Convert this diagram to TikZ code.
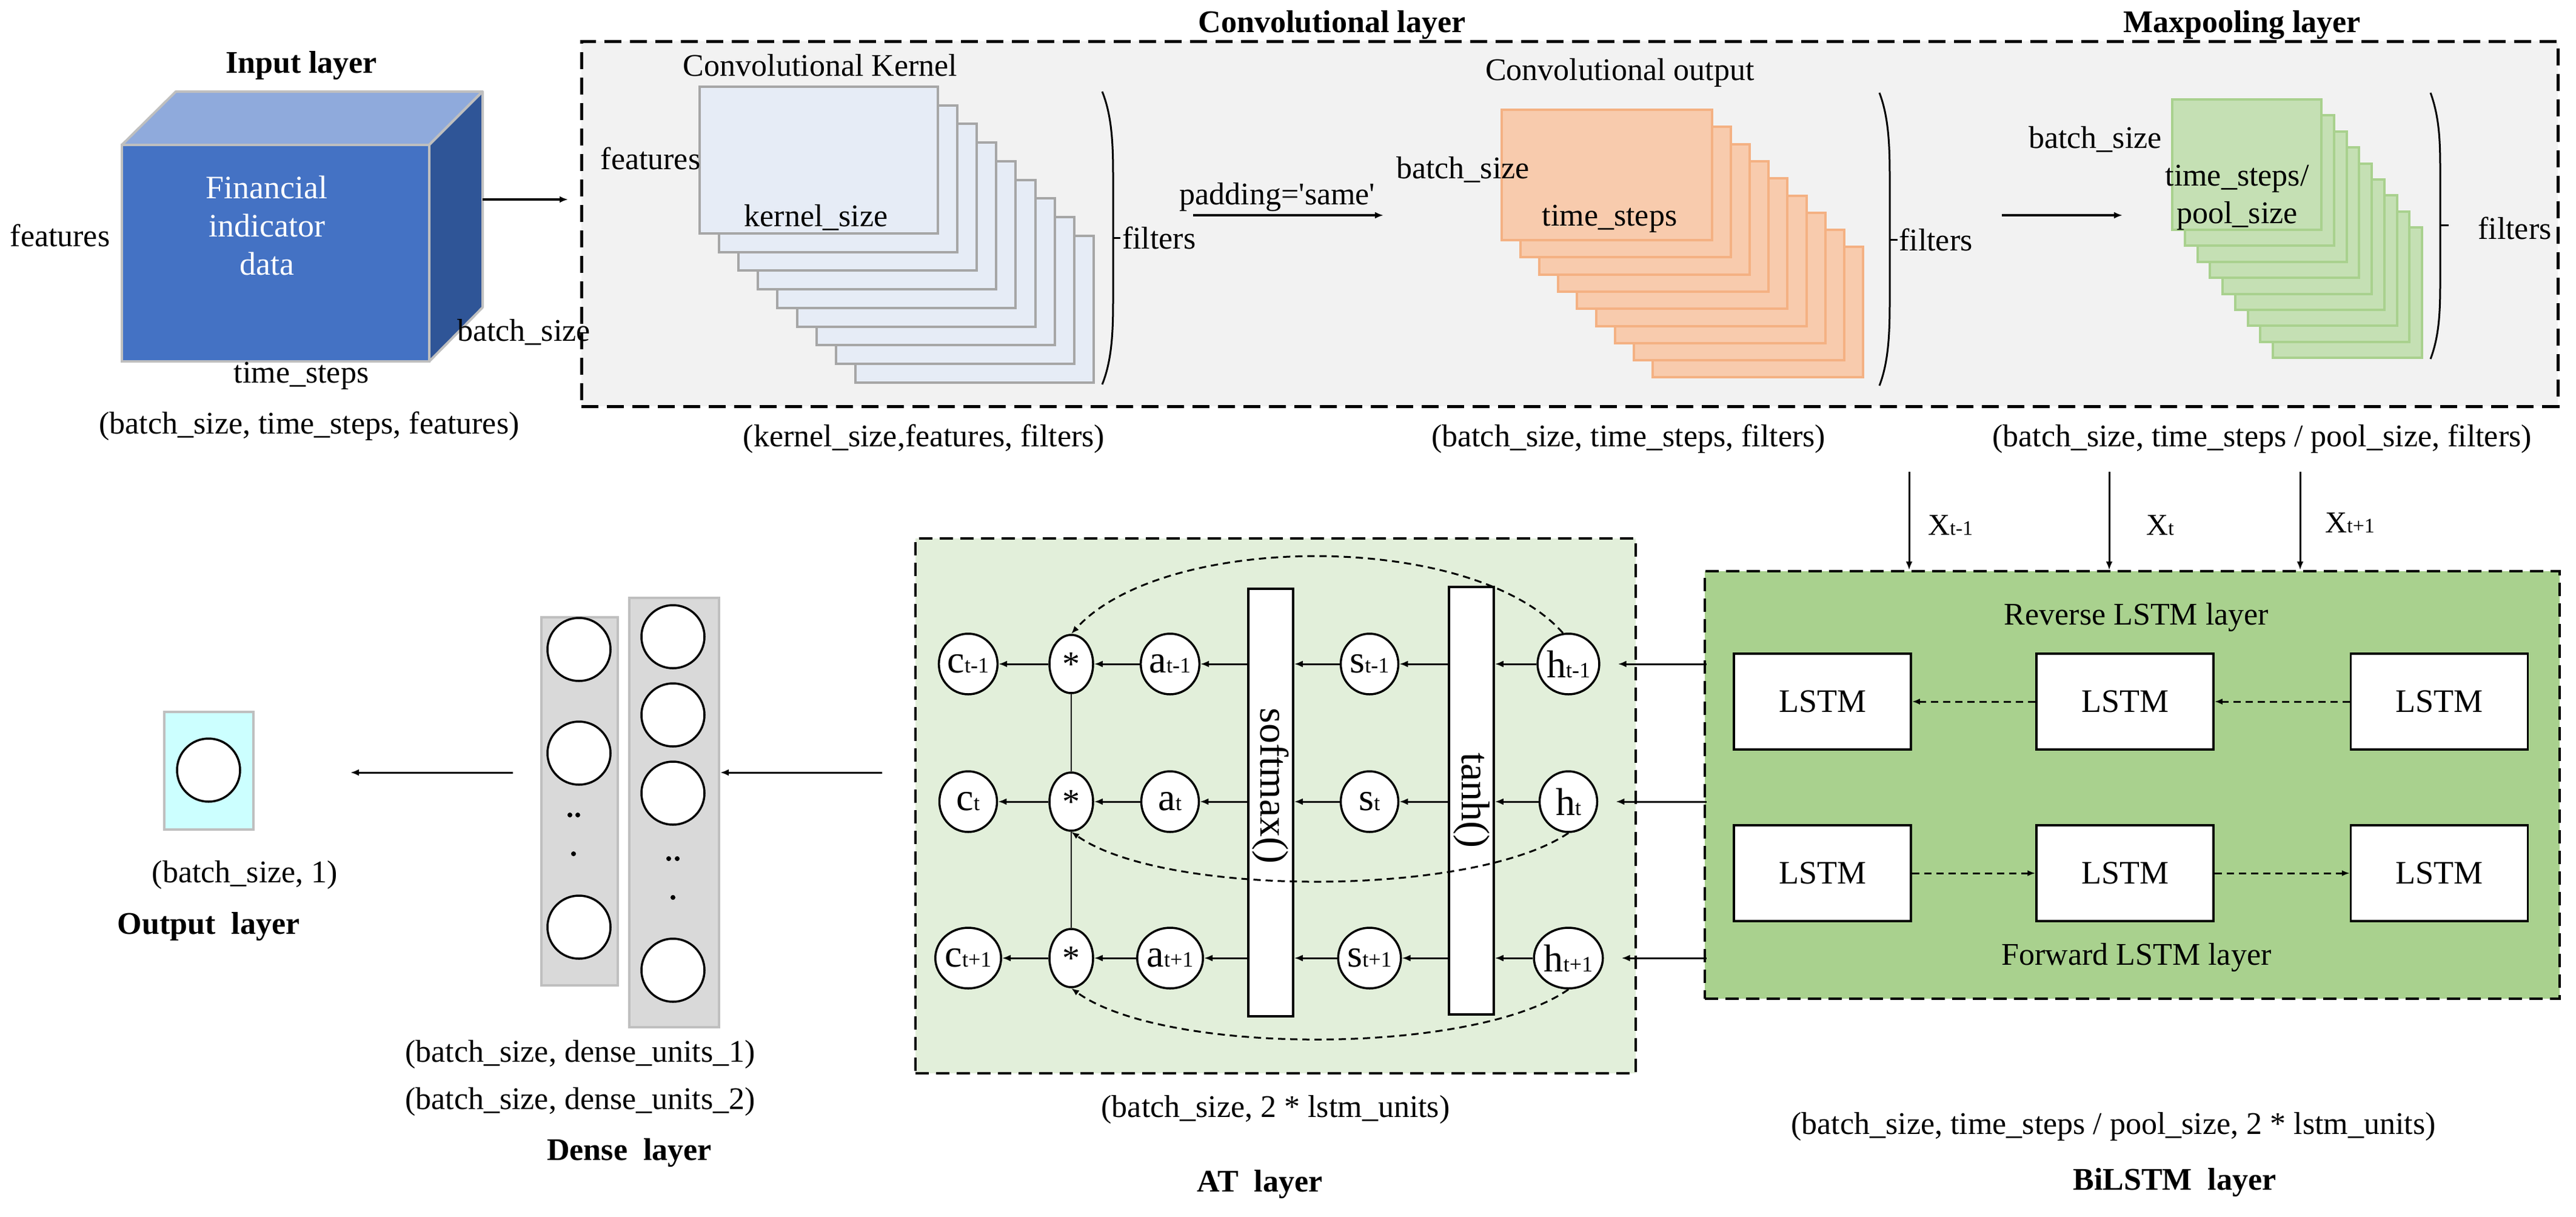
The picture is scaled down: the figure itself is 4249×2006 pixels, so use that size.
\documentclass[tikz,border=0pt]{standalone}
\usepackage{fontspec}
\setmainfont{Liberation Serif}[Ligatures=TeXOff]
\usetikzlibrary{shapes.geometric,arrows.meta}
\definecolor{cubefront}{HTML}{4472C4}
\definecolor{cubetop}{HTML}{8FAADC}
\definecolor{cubeside}{HTML}{2F5597}
\definecolor{edgegray}{HTML}{BFBFBF}
\definecolor{convbg}{HTML}{F2F2F2}
\definecolor{kfill}{HTML}{E6ECF6}
\definecolor{kdraw}{HTML}{A6A6A6}
\definecolor{ofill}{HTML}{F8CBAD}
\definecolor{odraw}{HTML}{F4B183}
\definecolor{gfill}{HTML}{C5E0B4}
\definecolor{gdraw}{HTML}{A9D18E}
\definecolor{atbg}{HTML}{E2EFDA}
\definecolor{bibg}{HTML}{A9D18E}
\definecolor{outbg}{HTML}{CCFFFF}
\definecolor{densebg}{HTML}{D9D9D9}
\newcommand{\fs}[2]{\fontsize{#1}{#2}\selectfont}
\newcommand{\lbl}[2]{{\fs{64}{64}#1}{\fs{36}{36}#2}}
\newcommand{\xlbl}[2]{{\fs{50}{50}#1}{\fs{34}{34}#2}}
\tikzset{
  txt/.style={font=\fs{52}{62}, inner sep=0pt, align=center},
  ttl/.style={font=\fs{52}{62}\bfseries, inner sep=0pt},
  arr/.style={line width=3.5pt, -{Latex[length=14pt,width=11pt]}},
  darr/.style={line width=3pt, dash pattern=on 12pt off 8pt, -{Latex[length=13pt,width=10pt]}},
  dbox/.style={draw=black, line width=5pt, dash pattern=on 28pt off 14pt, inner sep=0pt},
  unit/.style={ellipse, draw=black, line width=3.5pt, fill=white, minimum width=95pt, minimum height=100pt, inner sep=0pt},
  mul/.style={unit, minimum width=72pt, minimum height=96pt, font=\fs{58}{58}},
  lstmbox/.style={draw=black, line width=3.5pt, fill=white, minimum width=292pt, minimum height=158pt, font=\fs{54}{62}, inner sep=0pt},
  barbox/.style={draw=black, line width=3.5pt, fill=white, minimum width=74pt, minimum height=705pt, inner sep=0pt},
  neuron/.style={circle, draw=black, line width=3.5pt, fill=white, minimum size=104pt, inner sep=0pt},
  colbox/.style={draw=edgegray, line width=4pt, fill=densebg, inner sep=0pt},
  brk/.style={line width=3pt},
}
\begin{document}
\begin{tikzpicture}[x=1pt,y=-1pt]
\path[use as bounding box, fill=white] (0,0) rectangle (4249,2006);

% ---------------- Convolutional / Maxpooling box ----------------
\node[dbox, fill=convbg, minimum width=3260pt, minimum height=602pt] (convbox) at (2589,369) {};
\node[ttl] (convttl) at (2197,41) {Convolutional layer};
\node[ttl] (poolttl) at (3698,41) {Maxpooling layer};

% ---------------- Input layer ----------------
\node[ttl] (inputttl) at (497,108) {Input layer};
\path[fill=cubetop, draw=edgegray, line width=4pt, line join=round] (201,239) -- (290,151) -- (796,151) -- (708,239) -- cycle;
\path[fill=cubeside, draw=edgegray, line width=4pt, line join=round] (708,239) -- (796,151) -- (796,507) -- (708,596) -- cycle;
\node[draw=edgegray, line width=4pt, fill=cubefront, minimum width=507pt, minimum height=357pt, inner sep=0pt] (cube) at (454.5,417.5) {};
\node[txt, text=white, font=\fs{54}{63}] (cubetxt) at (440,372) {Financial\\indicator\\data};
\node[txt] (infeat) at (99,388) {features};
\node[txt] (inbatch) at (864,548) {batch\_size};
\node[txt] (intime) at (497,620) {time\_steps};
\node[txt] (inshape) at (510,703) {(batch\_size, time\_steps, features)};
\coordinate (cubeout) at (796,329);
\coordinate (convin) at (937,329);
\draw[arr] (cubeout) -- (convin);

% kernel stack
\foreach \i in {8,7,...,0} {
  \draw[fill=kfill, draw=kdraw, line width=4pt] ({1154+32.1*\i},{143+30.7*\i}) rectangle ++(393,242);
}
\node[txt] (kttl) at (1353,108) {Convolutional Kernel};
\node[txt] (kfeat) at (1073,261) {features};
\node[txt] (ksize) at (1346,359) {kernel\_size};
\draw[brk] (1818,151) .. controls (1836,195) and (1836,250) .. (1836,300) -- (1836,485) .. controls (1836,535) and (1836,590) .. (1818,634);
\draw[brk] (1836,392) -- (1848,392);
\node[txt, anchor=west] (kfilt) at (1851,392) {filters};
\node[txt] (kshape) at (1524,724) {(kernel\_size,features, filters)};

% padding arrow
\node[txt] (padtxt) at (2107,325) {padding='same'};
\coordinate (padA) at (1968,355);
\coordinate (padB) at (2282,355);
\draw[arr] (padA) -- (padB);

% conv output stack
\foreach \i in {8,7,...,0} {
  \draw[fill=ofill, draw=odraw, line width=4pt] ({2477+31.1*\i},{181+28.3*\i}) rectangle ++(347,215);
}
\node[txt] (ottl) at (2672,120) {Convolutional output};
\node[txt] (obatch) at (2413,280) {batch\_size};
\node[txt] (otime) at (2655,361) {time\_steps};
\draw[brk] (3100,153) .. controls (3117,197) and (3117,252) .. (3117,302) -- (3117,487) .. controls (3117,537) and (3117,592) .. (3100,636);
\draw[brk] (3117,395) -- (3130,395);
\node[txt, anchor=west] (ofilt) at (3132,395) {filters};
\node[txt] (oshape) at (2686,724) {(batch\_size, time\_steps, filters)};

% pool arrow
\coordinate (poolA) at (3302,355);
\coordinate (poolB) at (3501,355);
\draw[arr] (poolA) -- (poolB);

% maxpool stack
\foreach \i in {8,7,...,0} {
  \draw[fill=gfill, draw=gdraw, line width=4pt] ({3583+20.75*\i},{164+26.4*\i}) rectangle ++(246,215);
}
\node[txt] (pbatch) at (3456,230) {batch\_size};
\node[txt] (ptime) at (3690,326) {time\_steps/\\pool\_size};
\draw[brk] (4009,153) .. controls (4025,197) and (4025,240) .. (4025,290) -- (4025,455) .. controls (4025,505) and (4025,550) .. (4009,592);
\draw[brk] (4025,371) -- (4039,371);
\node[txt, anchor=west] (pfilt) at (4087,376) {filters};
\node[txt] (pshape) at (3731,724) {(batch\_size, time\_steps / pool\_size, filters)};

% ---------------- BiLSTM layer ----------------
\node[dbox, line width=4pt, dash pattern=on 22pt off 12pt, fill=bibg, minimum width=1410pt, minimum height=705pt] (bil) at (3517,1294.5) {};
\foreach \n/\x/\s in {1/3149/t-1, 2/3479/t, 3/3794/t+1} {
  \coordinate (xin\n) at (\x,778);
  \draw[arr, line width=3pt] (xin\n) -- (xin\n |- bil.north);
}
\node[anchor=west, inner sep=0pt] (xl1) at (3180,866) {\xlbl{X}{t-1}};
\node[anchor=west, inner sep=0pt] (xl2) at (3540,866) {\xlbl{X}{t}};
\node[anchor=west, inner sep=0pt] (xl3) at (3835,862) {\xlbl{X}{t+1}};
\node[txt] (revttl) at (3524,1018) {Reverse LSTM layer};
\node[txt] (fwdttl) at (3524,1579) {Forward LSTM layer};
\node[lstmbox] (r1) at (3006,1157) {LSTM};
\node[lstmbox] (r2) at (3505,1157) {LSTM};
\node[lstmbox] (r3) at (4023.5,1157) {LSTM};
\node[lstmbox] (f1) at (3006,1440) {LSTM};
\node[lstmbox] (f2) at (3505,1440) {LSTM};
\node[lstmbox] (f3) at (4023.5,1440) {LSTM};
\draw[darr] (r3.west) -- (r2.east);
\draw[darr] (r2.west) -- (r1.east);
\draw[darr] (f1.east) -- (f2.west);
\draw[darr] (f2.east) -- (f3.west);
\node[txt] (bishape) at (3486,1858) {(batch\_size, time\_steps / pool\_size, 2 * lstm\_units)};
\node[ttl] (bittl) at (3587,1950) {BiLSTM\ \ layer};

% ---------------- AT layer ----------------
\node[dbox, line width=4pt, dash pattern=on 22pt off 12pt, fill=atbg, minimum width=1188pt, minimum height=882pt] (atbox) at (2104,1329) {};
\node[barbox] (smbar) at (2096,1323.5) {};
\node[barbox] (tanhbar) at (2427,1320.5) {};
\node[rotate=-90, inner sep=0pt, font=\fs{66}{66}] (smtxt) at (2096,1296) {softmax()};
\node[rotate=-90, inner sep=0pt, font=\fs{66}{66}] (tanhtxt) at (2427,1320) {tanh()};
\foreach \r/\y/\s in {1/1095/t-1, 2/1322/t, 3/1580/t+1} {
  \node[unit] (c\r) at (1597,\y) {\lbl{c}{\s}};
  \node[mul] (m\r) at (1767,\y) {*};
  \node[unit] (a\r) at (1930,\y) {\lbl{a}{\s}};
  \node[unit] (s\r) at (2259,\y) {\lbl{s}{\s}};
  \node[unit] (h\r) at (2587,\y) {\lbl{h}{\s}};
  \draw[arr, line width=3pt] (h\r.west) -- (h\r.west -| tanhbar.east);
  \draw[arr, line width=3pt] (s\r.east -| tanhbar.west) -- (s\r.east);
  \draw[arr, line width=3pt] (s\r.west) -- (s\r.west -| smbar.east);
  \draw[arr, line width=3pt] (a\r.east -| smbar.west) -- (a\r.east);
  \draw[arr, line width=3pt] (a\r.west) -- (m\r.east);
  \draw[arr, line width=3pt] (m\r.west) -- (c\r.east);
  \draw[arr, line width=3pt] ([xshift=5pt]bil.west |- h\r) -- ([xshift=29pt]h\r.east);
}
\draw[line width=2.5pt] (m1.south) -- (m2.north);
\draw[line width=2.5pt] (m2.south) -- (m3.north);
\draw[darr] (h1.100) .. controls (2430,876) and (1920,876) .. (m1.north);
\draw[darr] (h2.south) .. controls (2430,1480) and (1920,1480) .. (m2.south);
\draw[darr] (h3.south) .. controls (2430,1741) and (1920,1741) .. (m3.south);
\node[txt] (atshape) at (2104,1830) {(batch\_size, 2 * lstm\_units)};
\node[ttl] (atttl) at (2078,1953) {AT\ \ layer};

% ---------------- Dense layer ----------------
\node[colbox, minimum width=126pt, minimum height=607pt] (d1) at (956,1321.5) {};
\node[colbox, minimum width=148pt, minimum height=708pt] (d2) at (1112,1340) {};
\node[neuron] (n11) at (955,1071) {};
\node[neuron] (n12) at (955,1242) {};
\node[neuron] (n13) at (955,1529) {};
\fill (940,1344) circle (4pt) (953,1344) circle (4pt) (946,1408) circle (4pt);
\node[neuron] (n21) at (1110,1050) {};
\node[neuron] (n22) at (1110,1179) {};
\node[neuron] (n23) at (1110,1308) {};
\node[neuron] (n24) at (1110,1600) {};
\fill (1103,1416) circle (4pt) (1117,1416) circle (4pt) (1110,1480) circle (4pt);
\coordinate (atout) at (1455,1274);
\draw[arr, line width=3pt] (atout) -- (atout -| d2.east);
\node[txt] (dshape1) at (957,1739) {(batch\_size, dense\_units\_1)};
\node[txt] (dshape2) at (957,1817) {(batch\_size, dense\_units\_2)};
\node[ttl] (dttl) at (1038,1901) {Dense\ \ layer};

% ---------------- Output layer ----------------
\node[draw=edgegray, line width=4pt, fill=outbg, minimum width=147pt, minimum height=194pt, inner sep=0pt] (outbox) at (344.5,1271) {};
\node[neuron] (nout) at (344,1270) {};
\coordinate (dout) at (846,1274);
\coordinate (oin) at (578,1274);
\draw[arr, line width=3pt] (dout) -- (oin);
\node[txt] (oshape1) at (404,1443) {(batch\_size, 1)};
\node[ttl] (outttl) at (344,1528) {Output\ \ layer};
\end{tikzpicture}
\end{document}
